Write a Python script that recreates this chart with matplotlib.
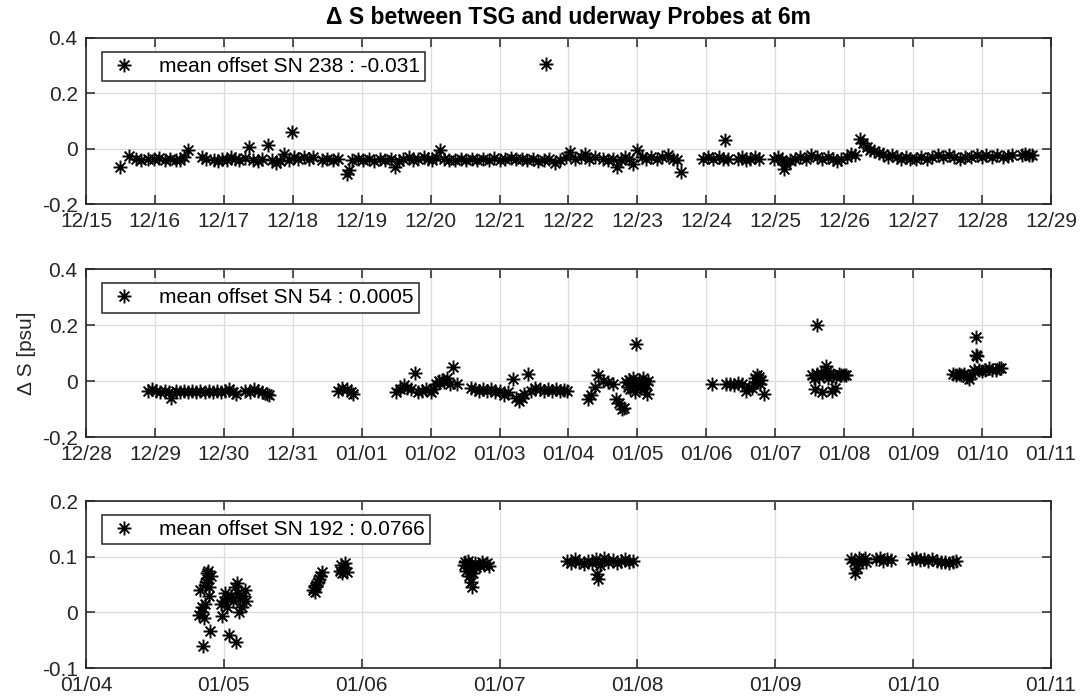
import numpy as np
import pandas as pd
import matplotlib
matplotlib.use('Agg')
import matplotlib.pyplot as plt
import matplotlib.dates as mdates
from matplotlib.path import Path

plt.rcParams['font.family'] = ['Liberation Sans', 'DejaVu Sans']

# --- data: (fractional day since panel start, delta S) ---
start1 = '2015-12-15'
t1 = [0.49, 0.62, 0.72, 0.80, 0.90, 0.98, 1.06, 1.14, 1.22, 1.30, 1.37, 1.42, 1.48,
      1.68, 1.74, 1.86, 1.92, 1.98, 2.04, 2.10, 2.16, 2.22, 2.30, 2.36, 2.42, 2.50,
      2.56, 2.64, 2.70, 2.76, 2.82, 2.88, 2.94, 2.99, 3.02, 3.08, 3.16, 3.24, 3.30,
      3.42, 3.50, 3.58, 3.66, 3.78, 3.82, 3.86, 3.94, 4.02, 4.10, 4.18, 4.26, 4.34,
      4.42, 4.48, 4.54, 4.60, 4.68, 4.74, 4.82, 4.90, 4.96, 5.02, 5.08, 5.14, 5.20,
      5.26, 5.36, 5.44, 5.52, 5.60, 5.68, 5.76, 5.84, 5.92, 6.00, 6.08, 6.16, 6.24,
      6.32, 6.40, 6.48, 6.56, 6.64, 6.68, 6.72, 6.80, 6.88, 6.96, 7.02, 7.10, 7.18,
      7.24, 7.30, 7.38, 7.50, 7.58, 7.64, 7.71, 7.76, 7.82, 7.88, 7.93, 8.00, 8.06,
      8.12, 8.20, 8.28, 8.36, 8.44, 8.52, 8.58, 8.64, 8.95, 9.02, 9.10, 9.18, 9.24,
      9.27, 9.32, 9.46, 9.52, 9.58, 9.64, 9.70, 9.76, 9.98, 10.04, 10.10, 10.13,
      10.16, 10.22, 10.28, 10.36, 10.44, 10.52, 10.60, 10.68, 10.76, 10.84, 10.90,
      10.96, 11.04, 11.10, 11.16, 11.23, 11.28, 11.33, 11.38, 11.44, 11.50, 11.56,
      11.64, 11.70, 11.76, 11.82, 11.90, 11.96, 12.04, 12.12, 12.20, 12.28, 12.36,
      12.44, 12.52, 12.60, 12.68, 12.76, 12.84, 12.92, 13.00, 13.06, 13.14, 13.22,
      13.30, 13.38, 13.43, 13.58, 13.63, 13.68, 13.73]
s1 = [-0.066, -0.028, -0.036, -0.040, -0.036, -0.038, -0.034, -0.040, -0.036, -0.042,
      -0.040, -0.030, -0.006, -0.030, -0.036, -0.040, -0.044, -0.036, -0.040, -0.030,
      -0.036, -0.040, -0.032, 0.006, -0.040, -0.046, -0.036, 0.012, -0.040, -0.050,
      -0.046, -0.020, -0.040, 0.062, -0.030, -0.036, -0.030, -0.036, -0.030, -0.040,
      -0.036, -0.040, -0.036, -0.090, -0.076, -0.040, -0.036, -0.040, -0.036, -0.044,
      -0.036, -0.040, -0.036, -0.066, -0.046, -0.036, -0.030, -0.040, -0.036, -0.030,
      -0.036, -0.040, -0.030, -0.006, -0.036, -0.040, -0.040, -0.036, -0.040, -0.036,
      -0.040, -0.036, -0.040, -0.034, -0.040, -0.036, -0.034, -0.036, -0.036, -0.040,
      -0.036, -0.044, -0.040, 0.305, -0.036, -0.050, -0.040, -0.030, -0.012, -0.036,
      -0.030, -0.020, -0.036, -0.030, -0.036, -0.040, -0.036, -0.066, -0.040, -0.030,
      -0.036, -0.054, -0.006, -0.030, -0.036, -0.030, -0.036, -0.030, -0.024, -0.036,
      -0.040, -0.084, -0.036, -0.030, -0.036, -0.030, -0.036, 0.030, -0.036, -0.036,
      -0.030, -0.040, -0.036, -0.030, -0.036, -0.036, -0.030, -0.040, -0.072, -0.056,
      -0.040, -0.036, -0.030, -0.036, -0.024, -0.030, -0.036, -0.030, -0.036, -0.044,
      -0.036, -0.030, -0.020, -0.024, 0.036, 0.020, 0.006, -0.004, -0.010, -0.014,
      -0.020, -0.030, -0.024, -0.030, -0.036, -0.030, -0.036, -0.036, -0.030, -0.036,
      -0.030, -0.024, -0.030, -0.024, -0.030, -0.036, -0.030, -0.030, -0.024, -0.030,
      -0.024, -0.030, -0.024, -0.030, -0.026, -0.024, -0.024, -0.020, -0.024, -0.022]

start2 = '2015-12-28'
t2 = [0.90, 0.96, 1.02, 1.08, 1.14, 1.20, 1.24, 1.30, 1.36, 1.42, 1.48, 1.54, 1.60,
      1.66, 1.72, 1.78, 1.84, 1.90, 1.96, 2.02, 2.08, 2.14, 2.18, 2.30, 2.38, 2.44,
      2.50, 2.56, 2.62, 2.66, 3.66, 3.72, 3.78, 3.84, 3.87, 4.50, 4.56, 4.62, 4.66,
      4.72, 4.77, 4.82, 4.88, 4.94, 5.00, 5.04, 5.08, 5.12, 5.16, 5.20, 5.24, 5.28,
      5.33, 5.38, 5.58, 5.64, 5.70, 5.76, 5.82, 5.88, 5.94, 6.00, 6.06, 6.12, 6.19,
      6.24, 6.28, 6.32, 6.36, 6.42, 6.46, 6.52, 6.58, 6.64, 6.70, 6.76, 6.82, 6.88,
      6.94, 6.98, 7.29, 7.33, 7.38, 7.43, 7.50, 7.58, 7.64, 7.69, 7.74, 7.78, 7.81,
      7.84, 7.86, 7.88, 7.90, 7.92, 7.94, 7.96, 7.98, 8.00, 8.02, 8.04, 8.06, 8.08,
      8.10, 8.12, 8.14, 8.16, 9.08, 9.28, 9.34, 9.40, 9.46, 9.52, 9.58, 9.62, 9.66,
      9.70, 9.72, 9.74, 9.76, 9.78, 9.80, 9.83, 10.53, 10.56, 10.58, 10.60, 10.61,
      10.63, 10.66, 10.68, 10.70, 10.73, 10.75, 10.77, 10.80, 10.82, 10.84, 10.86,
      10.88, 10.92, 10.96, 11.00, 11.03, 12.58, 12.62, 12.66, 12.70, 12.74, 12.78,
      12.81, 12.85, 12.88, 12.91, 12.91, 12.93, 12.95, 13.00, 13.05, 13.10, 13.15,
      13.20, 13.25, 13.28]
s2 = [-0.035, -0.030, -0.035, -0.038, -0.035, -0.040, -0.062, -0.035, -0.040, -0.035,
      -0.038, -0.035, -0.040, -0.035, -0.038, -0.035, -0.040, -0.035, -0.038, -0.035,
      -0.030, -0.038, -0.045, -0.035, -0.040, -0.030, -0.035, -0.038, -0.045, -0.050,
      -0.035, -0.025, -0.030, -0.038, -0.045, -0.040, -0.030, -0.015, -0.025, -0.030,
      0.028, -0.040, -0.035, -0.030, -0.038, -0.030, -0.010, 0.000, 0.005, -0.005,
      0.010, -0.010, 0.050, -0.010, -0.025, -0.030, -0.035, -0.030, -0.035, -0.030,
      -0.040, -0.035, -0.050, -0.040, 0.007, -0.060, -0.070, -0.060, -0.045, 0.025,
      -0.035, -0.025, -0.030, -0.035, -0.030, -0.035, -0.030, -0.035, -0.032, -0.035,
      -0.065, -0.050, -0.023, 0.023, 0.000, -0.005, -0.010, -0.065, -0.080, -0.100,
      -0.095, -0.005, -0.020, 0.005, -0.030, -0.010, 0.010, -0.040, 0.134, -0.015,
      0.005, -0.025, -0.005, 0.010, -0.030, -0.010, -0.045, 0.000, -0.010, -0.012,
      -0.010, -0.015, -0.008, -0.012, -0.035, -0.020, -0.025, 0.010, -0.005, 0.020,
      0.015, -0.010, 0.005, -0.047, 0.020, 0.010, -0.030, 0.025, 0.200, 0.015, 0.030,
      -0.040, 0.020, 0.055, 0.035, 0.010, 0.025, -0.035, 0.020, -0.025, 0.015, 0.025,
      0.020, 0.020, 0.020, 0.025, 0.020, 0.025, 0.020, 0.025, 0.015, 0.007, 0.025,
      0.040, 0.158, 0.092, 0.088, 0.040, 0.035, 0.040, 0.045, 0.040, 0.040, 0.045,
      0.045]

start3 = '2016-01-04'
t3 = [0.82, 0.83, 0.84, 0.845, 0.85, 0.855, 0.86, 0.865, 0.87, 0.875, 0.88, 0.885,
      0.89, 0.895, 0.90, 0.905, 0.98, 0.99, 1.00, 1.01, 1.02, 1.03, 1.04, 1.05, 1.07,
      1.08, 1.09, 1.095, 1.10, 1.11, 1.12, 1.13, 1.14, 1.15, 1.16, 1.65, 1.66, 1.665,
      1.67, 1.68, 1.69, 1.70, 1.71, 1.84, 1.85, 1.86, 1.87, 1.88, 1.89, 2.74, 2.75,
      2.76, 2.77, 2.78, 2.785, 2.79, 2.795, 2.80, 2.81, 2.82, 2.83, 2.85, 2.87, 2.89,
      2.91, 2.92, 3.49, 3.52, 3.55, 3.58, 3.61, 3.64, 3.67, 3.70, 3.71, 3.715, 3.73,
      3.76, 3.79, 3.82, 3.85, 3.88, 3.91, 3.94, 3.97, 5.55, 5.57, 5.58, 5.59, 5.61,
      5.63, 5.65, 5.66, 5.73, 5.76, 5.78, 5.81, 5.84, 5.99, 6.02, 6.05, 6.08, 6.11,
      6.14, 6.17, 6.20, 6.23, 6.26, 6.29, 6.31]
s3 = [-0.005, 0.040, 0.000, 0.010, -0.061, -0.010, 0.015, 0.050, 0.055, 0.060, 0.070,
      0.075, 0.045, 0.030, -0.034, 0.065, 0.015, -0.007, 0.020, 0.035, 0.010, 0.025,
      -0.040, 0.030, 0.020, 0.045, -0.054, 0.053, 0.035, 0.000, 0.025, 0.010, 0.030,
      0.040, 0.020, 0.040, 0.045, 0.036, 0.050, 0.055, 0.060, 0.065, 0.072, 0.075,
      0.085, 0.070, 0.080, 0.088, 0.072, 0.085, 0.090, 0.075, 0.092, 0.065, 0.080,
      0.055, 0.085, 0.045, 0.070, 0.088, 0.082, 0.085, 0.090, 0.085, 0.088, 0.083,
      0.092, 0.088, 0.095, 0.090, 0.086, 0.092, 0.088, 0.095, 0.068, 0.059, 0.085,
      0.097, 0.090, 0.094, 0.088, 0.092, 0.095, 0.090, 0.093, 0.095, 0.090, 0.071,
      0.080, 0.098, 0.093, 0.097, 0.090, 0.095, 0.097, 0.092, 0.096, 0.094, 0.095,
      0.097, 0.094, 0.096, 0.093, 0.095, 0.092, 0.090, 0.091, 0.088, 0.090, 0.092]

labels = ['mean offset SN 238 : -0.031', 'mean offset SN 54 : 0.0005',
          'mean offset SN 192 : 0.0766']

# MATLAB style asterisk marker (+ and x)
d = 0.7071
star = Path([(-1, 0), (1, 0), (0, -1), (0, 1), (-d, -d), (d, d), (-d, d), (d, -d)],
            [Path.MOVETO, Path.LINETO] * 4)

dark = '#262626'
fs = 15
fig = plt.figure(figsize=(10.8, 6.97), dpi=100)

panels = [
    (start1, t1, s1, 14, (-0.2, 0.4), [-0.2, 0, 0.2, 0.4], ['-0.2', '0', '0.2', '0.4'], [0.0796, 0.7073, 0.8935, 0.2382]),
    (start2, t2, s2, 14, (-0.2, 0.4), [-0.2, 0, 0.2, 0.4], ['-0.2', '0', '0.2', '0.4'], [0.0796, 0.3730, 0.8935, 0.2410]),
    (start3, t3, s3, 7, (-0.1, 0.2), [-0.1, 0, 0.1, 0.2], ['-0.1', '0', '0.1', '0.2'], [0.0796, 0.0416, 0.8935, 0.2396]),
]

for i, (st, tt, ss, ndays, ylim, yt, ytl, pos) in enumerate(panels):
    ax = fig.add_axes(pos)
    t0 = pd.Timestamp(st)
    x = t0 + pd.to_timedelta(np.array(tt), unit='D')
    ax.plot(x, ss, linestyle='none', marker=star, markersize=10, markeredgewidth=1.4,
            color='k', markerfacecolor='none', label=labels[i])
    ax.set_xlim(t0, t0 + pd.Timedelta(days=ndays))
    ax.set_ylim(*ylim)
    ax.set_yticks(yt)
    ax.set_yticklabels(ytl)
    ax.xaxis.set_major_locator(mdates.DayLocator())
    ax.xaxis.set_major_formatter(mdates.DateFormatter('%m/%d'))
    ax.grid(True, color='#dcdcdc', linewidth=0.9)
    ax.set_axisbelow(True)
    ax.tick_params(direction='in', length=6.5, width=1.1, colors=dark, labelsize=fs,
                   top=True, right=True)
    ax.tick_params(axis='x', pad=6)
    ax.tick_params(axis='y', pad=6)
    for sp in ax.spines.values():
        sp.set_color(dark)
        sp.set_linewidth(1.2)
    leg = ax.legend(loc='upper left', bbox_to_anchor=(0.0166, 0.916), borderaxespad=0,
                    fontsize=fs, fancybox=False, framealpha=1, edgecolor=dark,
                    handletextpad=0.9, borderpad=0.25, handlelength=1.6)
    leg.get_frame().set_linewidth(1.1)
    if i == 0:
        ax.set_title('\u0394 S between TSG and uderway Probes at 6m', fontsize=16.5,
                     fontweight='bold', pad=10)
    if i == 1:
        ax.set_ylabel('\u0394 S [psu]', fontsize=fs, color=dark, labelpad=4)

fig.savefig('out.png', dpi=100)
